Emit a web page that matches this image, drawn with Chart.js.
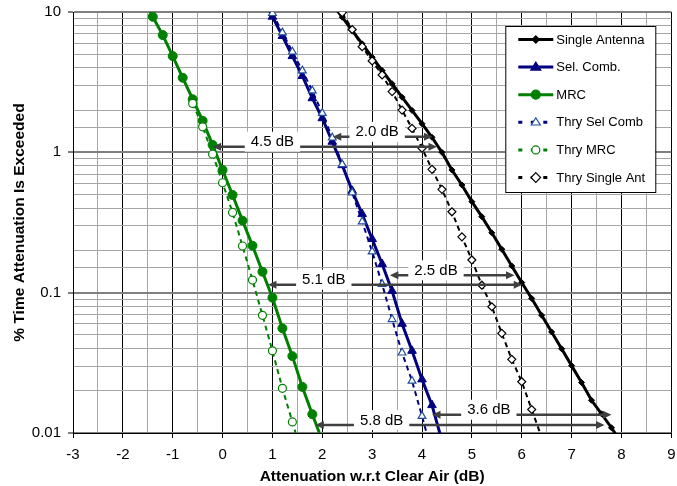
<!DOCTYPE html>
<html>
<head>
<meta charset="utf-8">
<script src="https://cdn.jsdelivr.net/npm/chart.js@4/dist/chart.umd.min.js"></script>
<style>
  html, body { margin: 0; padding: 0; background: #ffffff; }
  #wrap { width: 677px; height: 486px; }
</style>
</head>
<body>
<div id="wrap"><canvas id="c" width="677" height="486"></canvas></div>
<script>
// Attenuation (dB) vs. percentage of time exceeded, measured and theoretical
const singleX = [2.2, 2.4, 2.6, 2.8, 3.0, 3.2, 3.4, 3.6, 3.8, 4.0, 4.2, 4.4, 4.6, 4.8, 5.0, 5.2, 5.4, 5.6, 5.8, 6.0, 6.2, 6.4, 6.6, 6.8, 7.0, 7.2, 7.4, 7.6, 7.8, 8.0];
const singleY = [11.4, 9.18, 7.38, 5.93, 4.76, 3.83, 3.08, 2.47, 1.99, 1.6, 1.28, 1.0, 0.748, 0.585, 0.445, 0.348, 0.267, 0.204, 0.155, 0.118, 0.091, 0.069, 0.0525, 0.0398, 0.0302, 0.0229, 0.0171, 0.0137, 0.0109, 0.0085];

const selX = [0.8, 1.0, 1.2, 1.4, 1.6, 1.8, 2.0, 2.2, 2.4, 2.6, 2.8, 3.0, 3.2, 3.4, 3.6, 3.8, 4.0, 4.2, 4.4];
const selY = [12.8, 9.26, 6.75, 4.85, 3.5, 2.43, 1.75, 1.19, 0.81, 0.532, 0.363, 0.241, 0.16, 0.103, 0.060, 0.0385, 0.0241, 0.0158, 0.0088];

const mrcX = [-1.6, -1.4, -1.2, -1.0, -0.8, -0.6, -0.4, -0.2, 0.0, 0.2, 0.4, 0.6, 0.8, 1.0, 1.2, 1.4, 1.6, 1.8, 2.0];
const mrcY = [12.5, 9.25, 6.85, 4.85, 3.4, 2.39, 1.68, 1.13, 0.748, 0.497, 0.326, 0.216, 0.141, 0.092, 0.0557, 0.0353, 0.0213, 0.0136, 0.0088];

const thrySelX = [1.0, 1.2, 1.4, 1.6, 1.8, 2.0, 2.2, 2.4, 2.6, 2.8, 3.0, 3.2, 3.4, 3.6, 3.8, 4.0, 4.2];
const thrySelY = [9.8, 7.13, 5.21, 3.82, 2.75, 1.90, 1.27, 0.82, 0.516, 0.321, 0.196, 0.115, 0.0646, 0.0373, 0.0235, 0.0132, 0.0072];

const thryMrcX = [-0.6, -0.4, -0.2, 0.0, 0.2, 0.4, 0.6, 0.8, 1.0, 1.2, 1.4, 1.6];
const thryMrcY = [2.23, 1.52, 0.97, 0.607, 0.373, 0.215, 0.123, 0.069, 0.0385, 0.0208, 0.0120, 0.0068];

const thrySingleX = [2.4, 2.6, 2.8, 3.0, 3.2, 3.4, 3.6, 3.8, 4.0, 4.2, 4.4, 4.6, 4.8, 5.0, 5.2, 5.4, 5.6, 5.8, 6.0, 6.2, 6.4];
const thrySingleY = [9.9, 7.5, 5.66, 4.48, 3.56, 2.71, 2.0, 1.48, 1.07, 0.757, 0.545, 0.377, 0.25, 0.171, 0.113, 0.0794, 0.0513, 0.0335, 0.0232, 0.0147, 0.0093];

const seriesNames = ['Single Antenna', 'Sel. Comb.', 'MRC', 'Thry Sel Comb', 'Thry MRC', 'Thry Single Ant'];

// Axis ticks
const xTickLabels = ['-3', '-2', '-1', '0', '1', '2', '3', '4', '5', '6', '7', '8', '9'];
const yTickLabels = ['0.01', '0.1', '1', '10'];

// Gap annotations: label, gap in dB, left end (dB), level (% time), label centre (dB)
const gapLabels = ['4.5 dB', '2.0 dB', '5.1 dB', '2.5 dB', '5.8 dB', '3.6 dB'];
const gapValues = [4.5, 2.0, 5.1, 2.5, 5.8, 3.6];
const gapStart = [-0.2, 2.21, 0.91, 3.355, 1.86, 4.2];
const gapLevel = [1.097, 1.29, 0.114, 0.133, 0.0114, 0.0135];
const gapTextX = [1.0, 3.1, 2.03, 4.28, 3.19, 5.34];

const FONT = "'Liberation Sans', Arial, Helvetica, sans-serif";
const X_MIN = -3, X_MAX = 9, Y_MIN = 0.01, Y_MAX = 10;

const pts = (xs, ys) => xs.map((x, i) => ({ x: x, y: ys[i] }));
const inside = ctx => ctx.raw && ctx.raw.y >= Y_MIN * 0.999 && ctx.raw.y <= Y_MAX * 1.001;
const radius = r => ctx => (inside(ctx) ? r : 0);

const datasets = [
  { label: seriesNames[0], data: pts(singleX, singleY), borderColor: '#000000', backgroundColor: '#000000',
    borderWidth: 3, pointStyle: 'rectRot', pointRadius: radius(3), pointBorderWidth: 1, order: 2,
    legendMarker: 'diamond', legendSize: 3, legendFill: '#000000', legendStroke: '#000000' },
  { label: seriesNames[1], data: pts(selX, selY), borderColor: '#000080', backgroundColor: '#000080',
    borderWidth: 3, pointStyle: 'triangle', pointRadius: radius(5), pointBorderWidth: 1, order: 2,
    legendMarker: 'triangle', legendSize: 5, legendFill: '#000080', legendStroke: '#000080' },
  { label: seriesNames[2], data: pts(mrcX, mrcY), borderColor: '#008000', backgroundColor: '#008000',
    borderWidth: 3, pointStyle: 'circle', pointRadius: radius(4.5), pointBorderWidth: 1, order: 2,
    legendMarker: 'circle', legendSize: 4.5, legendFill: '#008000', legendStroke: '#008000' },
  { label: seriesNames[3], data: pts(thrySelX, thrySelY), borderColor: '#000080', borderDash: [5, 4],
    borderWidth: 2, pointStyle: 'triangle', pointRadius: radius(4.5), pointBackgroundColor: '#ffffff',
    pointBorderColor: '#1f4e9a', pointBorderWidth: 1.2, order: 1, dashed: true,
    legendMarker: 'triangle', legendSize: 4.5, legendFill: '#ffffff', legendStroke: '#1f4e9a' },
  { label: seriesNames[4], data: pts(thryMrcX, thryMrcY), borderColor: '#008000', borderDash: [5, 4],
    borderWidth: 2, pointStyle: 'circle', pointRadius: radius(4), pointBackgroundColor: '#ffffff',
    pointBorderColor: '#008000', pointBorderWidth: 1.2, order: 1, dashed: true,
    legendMarker: 'circle', legendSize: 4, legendFill: '#ffffff', legendStroke: '#008000' },
  { label: seriesNames[5], data: pts(thrySingleX, thrySingleY), borderColor: '#000000', borderDash: [5, 4],
    borderWidth: 2, pointStyle: 'rectRot', pointRadius: radius(4), pointBackgroundColor: '#ffffff',
    pointBorderColor: '#000000', pointBorderWidth: 1.2, order: 1, dashed: true,
    legendMarker: 'diamond', legendSize: 4, legendFill: '#ffffff', legendStroke: '#000000' }
];
datasets.forEach(d => { d.tension = 0; d.fill = false; d.clip = 0; if (!d.pointBackgroundColor) d.pointBackgroundColor = d.backgroundColor; if (!d.pointBorderColor) d.pointBorderColor = d.borderColor; });

function isDecade(v) {
  const l = Math.log10(v);
  return Math.abs(l - Math.round(l)) < 1e-6;
}

function marker(ctx, kind, x, y, r, fill, stroke) {
  ctx.save();
  ctx.beginPath();
  if (kind === 'circle') {
    ctx.arc(x, y, r, 0, Math.PI * 2);
  } else if (kind === 'triangle') {
    ctx.moveTo(x, y - r);
    ctx.lineTo(x + r * 0.866 * 1.15, y + r * 0.6);
    ctx.lineTo(x - r * 0.866 * 1.15, y + r * 0.6);
    ctx.closePath();
  } else {
    ctx.moveTo(x, y - r * 1.2);
    ctx.lineTo(x + r * 1.2, y);
    ctx.lineTo(x, y + r * 1.2);
    ctx.lineTo(x - r * 1.2, y);
    ctx.closePath();
  }
  ctx.fillStyle = fill;
  ctx.fill();
  ctx.lineWidth = 1.2;
  ctx.strokeStyle = stroke;
  ctx.stroke();
  ctx.restore();
}

// Double-headed arrows marking the gap between curves
const gapArrows = {
  id: 'gapArrows',
  afterDatasetsDraw(chart) {
    const { ctx, scales: { x, y } } = chart;
    ctx.save();
    ctx.font = '15px ' + FONT;
    ctx.textAlign = 'center';
    ctx.textBaseline = 'middle';
    gapLabels.forEach((label, i) => {
      const x1 = x.getPixelForValue(gapStart[i]);
      const x2 = x.getPixelForValue(gapStart[i] + gapValues[i]);
      const yy = y.getPixelForValue(gapLevel[i]);
      const head = 8.5, half = 4;
      ctx.strokeStyle = '#404040';
      ctx.fillStyle = '#404040';
      ctx.lineWidth = 2.5;
      ctx.beginPath();
      ctx.moveTo(x1 + head - 1, yy);
      ctx.lineTo(x2 - head + 1, yy);
      ctx.stroke();
      ctx.beginPath();
      ctx.moveTo(x1, yy); ctx.lineTo(x1 + head, yy - half); ctx.lineTo(x1 + head, yy + half); ctx.closePath();
      ctx.fill();
      ctx.beginPath();
      ctx.moveTo(x2, yy); ctx.lineTo(x2 - head, yy - half); ctx.lineTo(x2 - head, yy + half); ctx.closePath();
      ctx.fill();
      const tx = x.getPixelForValue(gapTextX[i]);
      const ty = yy - 5;
      const w = ctx.measureText(label).width + 12;
      ctx.fillStyle = '#ffffff';
      ctx.fillRect(tx - w / 2, ty - 10, w, 20);
      ctx.fillStyle = '#000000';
      ctx.fillText(label, tx, ty + 0.5);
    });
    ctx.restore();
  }
};

// Boxed legend inside the plot
const boxLegend = {
  id: 'boxLegend',
  afterDraw(chart) {
    const { ctx, chartArea } = chart;
    const left = chartArea.right - 166, top = chartArea.top + 14;
    const w = 150, h = 166;
    ctx.save();
    ctx.fillStyle = '#ffffff';
    ctx.fillRect(left, top, w, h);
    ctx.strokeStyle = '#000000';
    ctx.lineWidth = 1;
    ctx.strokeRect(left + 0.5, top + 0.5, w, h);
    ctx.font = '13px ' + FONT;
    ctx.textAlign = 'left';
    ctx.textBaseline = 'middle';
    chart.data.datasets.forEach((d, i) => {
      const yy = top + 13.5 + i * 27.6;
      const xa = left + 13, xb = left + 48;
      ctx.strokeStyle = d.borderColor;
      ctx.lineWidth = 3;
      ctx.setLineDash(d.dashed ? [4, 8.5] : []);
      ctx.beginPath();
      ctx.moveTo(xa, yy);
      ctx.lineTo(xb, yy);
      ctx.stroke();
      ctx.setLineDash([]);
      marker(ctx, d.legendMarker, (xa + xb) / 2, yy, d.legendSize, d.legendFill, d.legendStroke);
      ctx.fillStyle = '#000000';
      ctx.fillText(d.label, left + 51, yy + 0.5);
    });
    ctx.restore();
  }
};

new Chart(document.getElementById('c'), {
  type: 'line',
  data: { datasets: datasets },
  options: {
    responsive: false,
    animation: false,
    devicePixelRatio: 1,
    layout: { padding: { top: 12, right: 4, bottom: 0, left: 0 } },
    plugins: { legend: { display: false }, tooltip: { enabled: false } },
    scales: {
      x: {
        type: 'linear', min: X_MIN, max: X_MAX,
        afterFit: s => { s.height = 53; s.paddingLeft = 0; s.paddingRight = 0; },
        ticks: {
          stepSize: 0.5, autoSkip: false, maxRotation: 0, padding: 8, color: '#000000',
          font: { family: FONT, size: 15 },
          callback: v => (Number.isInteger(v) ? xTickLabels[v - X_MIN] : '')
        },
        grid: {
          color: c => (Number.isInteger(c.tick.value) ? '#000000' : '#a6a6a6'),
          lineWidth: 1, tickLength: 5,
          tickColor: c => (Number.isInteger(c.tick.value) ? '#000000' : 'rgba(0,0,0,0)')
        },
        border: { color: '#000000', width: 1 },
        title: {
          display: true, text: 'Attenuation w.r.t Clear Air (dB)', color: '#000000',
          font: { family: FONT, size: 15.5, weight: 'bold' }, padding: { top: 0, bottom: 0 }
        }
      },
      y: {
        type: 'logarithmic', min: Y_MIN, max: Y_MAX,
        afterFit: s => { s.width = 73; s.paddingTop = 0; s.paddingBottom = 0; },
        ticks: {
          autoSkip: false, padding: 7, color: '#000000',
          font: { family: FONT, size: 15 },
          callback: v => (isDecade(v) ? yTickLabels[Math.round(Math.log10(v)) + 2] : '')
        },
        grid: {
          color: c => (isDecade(c.tick.value) ? '#808080' : '#a6a6a6'),
          lineWidth: c => (isDecade(c.tick.value) ? 2 : 1), tickLength: 5,
          tickColor: c => (isDecade(c.tick.value) ? '#000000' : 'rgba(0,0,0,0)'),
          tickWidth: 1
        },
        border: { color: '#000000', width: 1 },
        title: {
          display: true, text: '% Time Attenuation Is Exceeded', color: '#000000',
          font: { family: FONT, size: 15.5, weight: 'bold' }, padding: { top: 10.5, bottom: 0 }
        }
      }
    }
  },
  plugins: [gapArrows, boxLegend]
});
</script>
</body>
</html>
